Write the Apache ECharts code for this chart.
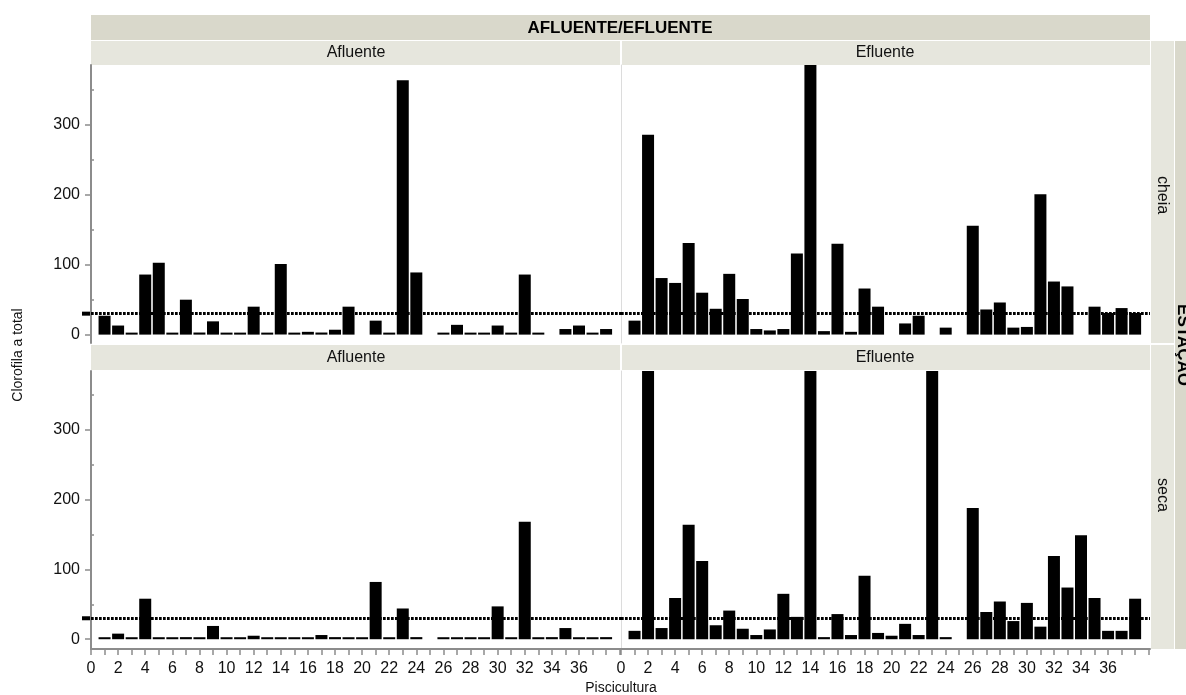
<!DOCTYPE html>
<html>
<head>
<meta charset="utf-8">
<script src="https://cdn.jsdelivr.net/npm/echarts@6/dist/echarts.min.js"></script>
<style>html,body{margin:0;padding:0;background:#fff;}#c{width:1186px;height:695px;}</style>
</head>
<body>
<div id="c"></div>
<script>
// Piscicultura (x positions 1..38)
const piscicultura = [1,2,3,4,5,6,7,8,9,10,11,12,13,14,15,16,17,18,19,20,21,22,23,24,25,26,27,28,29,30,31,32,33,34,35,36,37,38];
// Clorofila a total values (null = no bar); values above the panel top are clipped in the reference
const afluenteCheia = [27,13,1,86,103,1,50,3,19,1,1,40,1,101,1,4,3,7,40,null,20,2,364,89,null,1,14,2,1,13,2,86,1,null,8,13,2,8];
const efluenteCheia = [20,286,81,74,131,60,37,87,51,8,6,8,116,420,5,130,4,66,40,null,16,27,null,10,null,156,36,46,10,11,201,76,69,null,40,31,38,31];
const afluenteSeca  = [1,8,1,58,2,1,3,1,19,1,0.5,5,0.5,1,0.5,2,6,3,1,2,82,0.5,44,3,null,0.5,0.5,1,0.5,47,0.5,168,0.5,3,16,2,0.5,3];
const efluenteSeca  = [12,420,16,59,164,112,20,41,15,6,14,65,32,420,3,36,6,91,9,5,22,6,420,3,null,188,39,54,26,52,18,119,74,149,59,12,12,58];
const referenceLevel = 30;
const xTickValues = [0,1,2,3,4,5,6,7,8,9,10,11,12,13,14,15,16,17,18,19,20,21,22,23,24,25,26,27,28,29,30,31,32,33,34,35,36,37,38,39];
const xLabelValues = [0,2,4,6,8,10,12,14,16,18,20,22,24,26,28,30,32,34,36];
const yLabelValues = [0,100,200,300];
const yMinorValues = [50,150,250,350];
const colLabels = ['Afluente','Efluente'];
const rowLabels = ['cheia','seca'];

const FONT = '"Liberation Sans", Arial, sans-serif';
const AXIS_GRAY = '#8c8c8c';

const grids = [
  {left:91, top:65, width:530, height:278},
  {left:621, top:65, width:529, height:278},
  {left:91, top:371, width:530, height:278},
  {left:621, top:371, width:529, height:278}
];
const yRange = [[-12,386],[-12,386],[-14,384],[-14,384]];
const panelData = [afluenteCheia, efluenteCheia, afluenteSeca, efluenteSeca];

const xAxes = grids.map((g,i) => ({
  gridIndex:i, type:'value', min:0, max:39.1,
  axisLine:{show:i>=2, onZero:false, lineStyle:{color:AXIS_GRAY, width:2}},
  axisTick:{show:i>=2, customValues:xTickValues, length:6, lineStyle:{color:AXIS_GRAY, width:1.5}},
  axisLabel:{show:i>=2, customValues:xLabelValues, fontSize:16, color:'#111', fontFamily:FONT, margin:12},
  splitLine:{show:false}
}));

const yAxes = grids.map((g,i) => {
  const left = (i % 2 === 0);
  return {
    gridIndex:i, type:'value', min:yRange[i][0], max:yRange[i][1],
    axisLine:{show:true, onZero:false, lineStyle:{color: left ? AXIS_GRAY : '#dcdcdc', width: left ? 2 : 1}},
    axisTick:{show:left, customValues:yLabelValues, length:6, lineStyle:{color:AXIS_GRAY, width:1.5}},
    axisLabel:{show:left, customValues:yLabelValues, fontSize:16, color:'#111', fontFamily:FONT, margin:11},
    splitLine:{show:false}
  };
});
// minor ticks on left panels
[0,2].forEach(i => {
  yAxes.push({
    gridIndex:i, type:'value', min:yRange[i][0], max:yRange[i][1],
    axisLine:{show:false},
    axisTick:{show:true, customValues:yMinorValues, length:3, lineStyle:{color:AXIS_GRAY, width:1.5}},
    axisLabel:{show:false}, splitLine:{show:false}
  });
});

const series = panelData.map((arr,i) => ({
  type:'bar', xAxisIndex:i, yAxisIndex:i,
  data: piscicultura.map((p,k) => [p, arr[k]]),
  barWidth:12, barMinHeight:2,
  itemStyle:{color:'#000'},
  clip:true, silent:true,
  markLine:{
    silent:true, symbol:['none','none'], label:{show:false},
    lineStyle:{color:'#000', width:3, type:[2.7,1.3]},
    data:[{yAxis:referenceLevel}]
  }
}));

const STRIP_DARK = '#d9d8cb';
const STRIP_LIGHT = '#e6e6dd';
const graphics = [
  // top band
  {type:'rect', shape:{x:91,y:15,width:1059,height:25}, style:{fill:STRIP_DARK}, silent:true},
  {type:'text', x:620, y:28, style:{text:'AFLUENTE/EFLUENTE', font:'bold 17px '+FONT, fill:'#000', align:'center', verticalAlign:'middle'}, silent:true},
  // right outer band
  {type:'rect', shape:{x:1175,y:41,width:20,height:608}, style:{fill:STRIP_DARK}, silent:true},
  {type:'text', x:1183, y:345, rotation:-Math.PI/2, style:{text:'ESTAÇÃO', font:'bold 17px '+FONT, fill:'#000', align:'center', verticalAlign:'middle'}, silent:true},
  // y title
  {type:'text', x:18, y:355, rotation:Math.PI/2, style:{text:'Clorofila a total', font:'14px '+FONT, fill:'#111', align:'center', verticalAlign:'middle'}, silent:true},
  // x title
  {type:'text', x:621, y:688, style:{text:'Piscicultura', font:'14px '+FONT, fill:'#111', align:'center', verticalAlign:'middle'}, silent:true}
];
// column strips for both rows
[[41,24],[345,25]].forEach(([y,h]) => {
  graphics.push({type:'rect', shape:{x:91,y:y,width:529,height:h}, style:{fill:STRIP_LIGHT}, silent:true});
  graphics.push({type:'rect', shape:{x:622,y:y,width:528,height:h}, style:{fill:STRIP_LIGHT}, silent:true});
  graphics.push({type:'text', x:356, y:y+h/2, style:{text:colLabels[0], font:'16px '+FONT, fill:'#111', align:'center', verticalAlign:'middle'}, silent:true});
  graphics.push({type:'text', x:885, y:y+h/2, style:{text:colLabels[1], font:'16px '+FONT, fill:'#111', align:'center', verticalAlign:'middle'}, silent:true});
});
// row strips
[[41,302,195],[345,304,495]].forEach(([y,h,cy],r) => {
  graphics.push({type:'rect', shape:{x:1151,y:y,width:23,height:h}, style:{fill:STRIP_LIGHT}, silent:true});
  graphics.push({type:'text', x:1162, y:cy, rotation:-Math.PI/2, style:{text:rowLabels[r], font:'16px '+FONT, fill:'#111', align:'center', verticalAlign:'middle'}, silent:true});
});

const chart = echarts.init(document.getElementById('c'), null, {renderer:'canvas'});
chart.setOption({
  animation:false,
  backgroundColor:'#fff',
  grid:grids,
  xAxis:xAxes,
  yAxis:yAxes,
  series:series,
  graphic:graphics
});
// small solid marker of the reference level on the left axis
const extra = [0,2].map(i => {
  const pt = chart.convertToPixel({xAxisIndex:i, yAxisIndex:i}, [0, referenceLevel]);
  return {type:'rect', shape:{x:pt[0]-9, y:pt[1]-2, width:8, height:4}, style:{fill:'#000'}, silent:true};
});
chart.setOption({graphic: graphics.concat(extra)});
</script>
</body>
</html>
